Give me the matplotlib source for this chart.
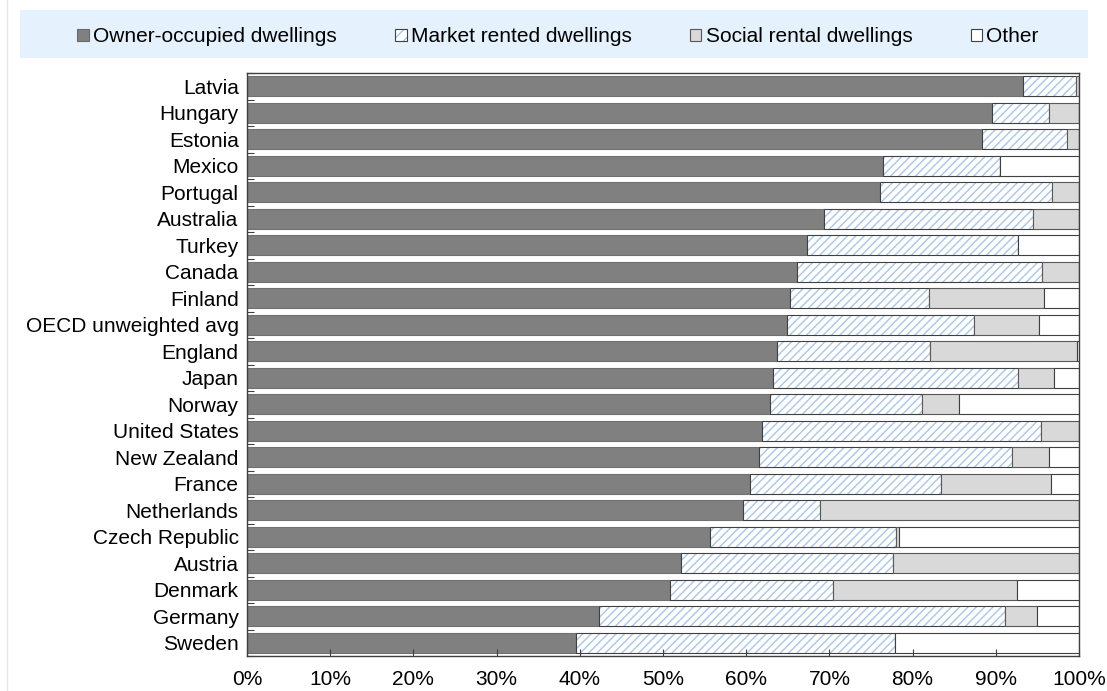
import matplotlib
matplotlib.use("Agg")
import matplotlib.pyplot as plt
from matplotlib.patches import Patch, Rectangle
from matplotlib.lines import Line2D
from matplotlib.legend_handler import HandlerTuple
import numpy as np

plt.rcParams['font.family'] = ['Liberation Sans', 'DejaVu Sans']

countries = ["Latvia", "Hungary", "Estonia", "Mexico", "Portugal", "Australia", "Turkey",
             "Canada", "Finland", "OECD unweighted avg", "England", "Japan", "Norway",
             "United States", "New Zealand", "France", "Netherlands", "Czech Republic",
             "Austria", "Denmark", "Germany", "Sweden"]
owner = [93.3, 89.5, 88.4, 76.4, 76.1, 69.3, 67.3, 66.1, 65.3, 64.9, 63.7, 63.2, 62.9,
         61.9, 61.5, 60.4, 59.6, 55.6, 52.2, 50.9, 42.3, 39.6]
market = [6.3, 6.9, 10.2, 14.1, 20.7, 25.2, 25.4, 29.5, 16.7, 22.5, 18.4, 29.5, 18.2,
          33.5, 30.4, 23.0, 9.3, 22.4, 25.4, 19.5, 48.8, 38.3]
social = [0.4, 3.6, 1.4, 0.0, 3.2, 5.5, 0.0, 4.4, 13.8, 7.8, 17.7, 4.3, 4.5,
          4.6, 4.5, 13.2, 31.1, 0.4, 22.4, 22.2, 3.8, 0.0]
other = [0.0, 0.0, 0.0, 9.5, 0.0, 0.0, 7.3, 0.0, 4.2, 4.8, 0.2, 3.0, 14.4,
         0.0, 3.6, 3.4, 0.0, 21.6, 0.0, 7.4, 5.1, 22.1]
legend_labels = ["Owner-occupied dwellings", "Market rented dwellings",
                 "Social rental dwellings", "Other"]
xticks = [0, 10, 20, 30, 40, 50, 60, 70, 80, 90, 100]

HATCH_BLUE = '#a9c6e6'

fig = plt.figure(figsize=(11.07, 6.91), dpi=100)
ax = fig.add_axes([247/1107, 1-656/691, (1079-247)/1107, (656-73)/691])

y = np.arange(len(countries))
h = 0.76
owner = np.array(owner); market = np.array(market); social = np.array(social); other = np.array(other)

plt.rcParams['hatch.linewidth'] = 1.0
ax.barh(y, owner, height=h, color='#808080', edgecolor='#707070', linewidth=0.8)
ax.barh(y, market, left=owner, height=h, color='white', edgecolor=HATCH_BLUE, hatch='////', linewidth=0)
ax.barh(y, market, left=owner, height=h, color='none', edgecolor='#404040', linewidth=0.8)
ax.barh(y, social, left=owner+market, height=h, color='#d9d9d9', edgecolor='#595959', linewidth=0.8)
ax.barh(y, other, left=owner+market+social, height=h, color='white', edgecolor='#404040', linewidth=0.8)

ax.set_xlim(0, 100)
ax.set_ylim(len(countries)-0.5, -0.5)
ax.set_yticks(y)
ax.set_yticklabels(countries, fontsize=15)
ax.tick_params(axis='y', length=0, pad=6)
ax.set_yticks(np.arange(len(countries)+1)-0.5, minor=True)
ax.tick_params(axis='y', which='minor', direction='in', length=5, width=0.8, color='#404040')
ax.set_xticks(xticks)
ax.set_xticklabels([f"{t}%" for t in xticks], fontsize=15)
ax.tick_params(axis='x', direction='in', length=5, width=0.8, color='#404040', pad=10)
for s in ax.spines.values():
    s.set_color('#404040')
    s.set_linewidth(1.0)

# legend background
fig.patches.append(Rectangle((20/1107, 1-58/691), (1088-20)/1107, 48/691,
                             transform=fig.transFigure, facecolor='#e5f1fd', edgecolor='none', zorder=0))
fig.lines.append(Line2D([7/1107, 7/1107], [0, 1], transform=fig.transFigure, color='#e6e6e6', linewidth=1))

handles = [Patch(facecolor='#808080', edgecolor='#6a6a6a', linewidth=0.8),
           (Patch(facecolor='white', edgecolor=HATCH_BLUE, hatch='///', linewidth=0),
            Patch(facecolor='none', edgecolor='#404040', linewidth=0.8)),
           Patch(facecolor='#d9d9d9', edgecolor='#595959', linewidth=0.8),
           Patch(facecolor='white', edgecolor='#404040', linewidth=0.8)]
leg = fig.legend(handles, legend_labels, loc='center', bbox_to_anchor=(558/1107, 1-37/691),
                 ncol=4, frameon=False, fontsize=15, handlelength=0.55, handleheight=0.55,
                 handletextpad=0.2, columnspacing=2.8,
                 handler_map={tuple: HandlerTuple(ndivide=1, pad=0)})

fig.savefig("out.png", dpi=100)
